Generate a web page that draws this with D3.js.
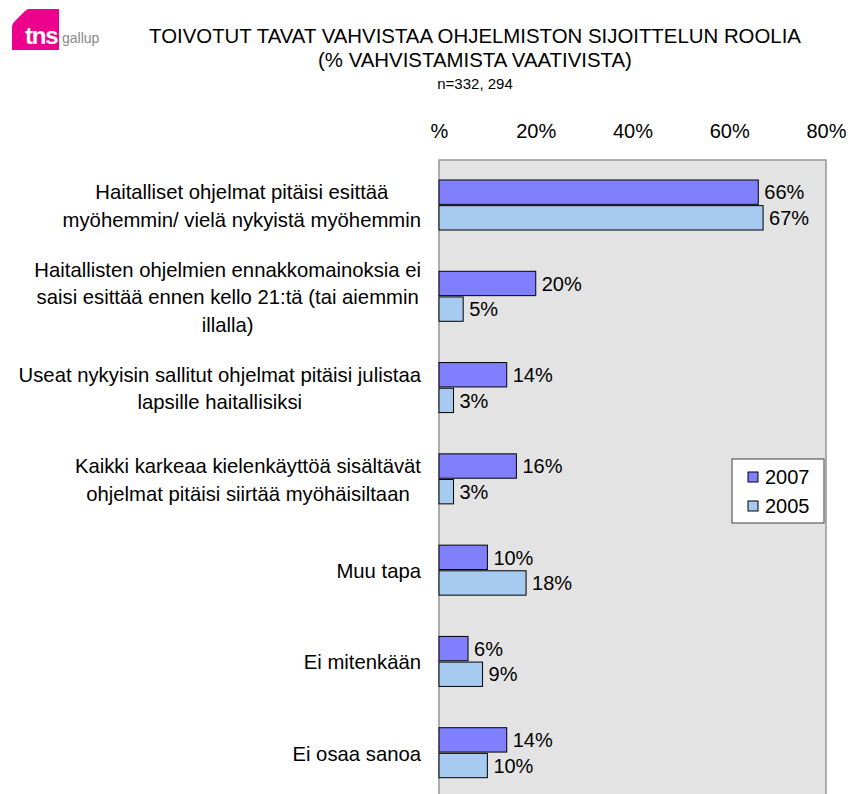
<!DOCTYPE html>
<html>
<head>
<meta charset="utf-8">
<script src="https://cdn.jsdelivr.net/npm/d3@7"></script>
<style>
  body { margin: 0; background: #fff; }
  svg { font-family: "Liberation Sans", Arial, sans-serif; }
</style>
</head>
<body>
<div id="chart"></div>
<script>
var categories = [
  ["Haitalliset ohjelmat pitäisi esittää", "myöhemmin/ vielä nykyistä myöhemmin"],
  ["Haitallisten ohjelmien ennakkomainoksia ei", "saisi esittää ennen kello 21:tä (tai aiemmin", "illalla)"],
  ["Useat nykyisin sallitut ohjelmat pitäisi julistaa", "lapsille haitallisiksi"],
  ["Kaikki karkeaa kielenkäyttöä sisältävät", "ohjelmat pitäisi siirtää myöhäisiltaan"],
  ["Muu tapa"],
  ["Ei mitenkään"],
  ["Ei osaa sanoa"]
];
var seriesNames = ["2007", "2005"];
var values2007 = [66, 20, 14, 16, 10, 6, 14];
var values2005 = [67, 5, 3, 3, 18, 9, 10];
var tickValues = [0, 20, 40, 60, 80];
var tickLabels = ["%", "20%", "40%", "60%", "80%"];

var colors = { "2007": "#8080ff", "2005": "#a6caf0" };

var width = 851, height = 794;
var plot = { left: 439, right: 826, top: 160, bottom: 799 };

var svg = d3.select("#chart").append("svg")
  .attr("width", width)
  .attr("height", height);

// logo
var logo = svg.append("g");
logo.append("path")
  .attr("d", "M29,9 L59,9 L59,50 L12,50 L12,27 Q12,24 14,22 L25,11 Q27,9 29,9 Z")
  .attr("fill", "#ec008c");
logo.append("text")
  .attr("x", 25).attr("y", 44)
  .attr("fill", "#fff")
  .style("font-size", "24px")
  .style("font-weight", "bold")
  .style("letter-spacing", "-1.2px")
  .text("tns");
logo.append("text")
  .attr("x", 62).attr("y", 43)
  .attr("fill", "#888")
  .style("font-size", "14px")
  .text("gallup");

// title
svg.append("text")
  .attr("x", 475).attr("y", 43)
  .attr("text-anchor", "middle")
  .style("font-size", "20.4px")
  .text("TOIVOTUT TAVAT VAHVISTAA OHJELMISTON SIJOITTELUN ROOLIA");
svg.append("text")
  .attr("x", 475).attr("y", 67)
  .attr("text-anchor", "middle")
  .style("font-size", "20.4px")
  .text("(% VAHVISTAMISTA VAATIVISTA)");
svg.append("text")
  .attr("x", 475).attr("y", 89)
  .attr("text-anchor", "middle")
  .style("font-size", "15px")
  .text("n=332, 294");

var x = d3.scaleLinear().domain([0, 80]).range([plot.left, plot.right]);
var y0 = d3.scaleBand().domain(d3.range(categories.length)).range([plot.top, plot.bottom]);
var y1 = d3.scaleBand().domain(seriesNames).range([20, 70]).paddingInner(0.05);

// plot area
svg.append("rect")
  .attr("x", plot.left).attr("y", plot.top)
  .attr("width", plot.right - plot.left)
  .attr("height", plot.bottom - plot.top)
  .attr("fill", "#e3e3e3")
  .attr("stroke", "#969696")
  .attr("stroke-width", 1.5);

// axis on top
var axis = d3.axisTop(x)
  .tickValues(tickValues)
  .tickFormat(function(d, i) { return tickLabels[i]; })
  .tickSize(0)
  .tickPadding(0);
var ax = svg.append("g")
  .attr("transform", "translate(0,138)")
  .call(axis);
ax.select(".domain").remove();
ax.selectAll("text")
  .attr("dy", 0)
  .attr("fill", "#000")
  .style("font-size", "20px")
  .style("font-family", "Liberation Sans, Arial, sans-serif");

// bars
var rows = [];
categories.forEach(function(c, i) {
  rows.push({ cat: i, series: "2007", value: values2007[i] });
  rows.push({ cat: i, series: "2005", value: values2005[i] });
});

svg.selectAll(".bar")
  .data(rows)
  .enter().append("rect")
    .attr("class", "bar")
    .attr("x", x(0))
    .attr("y", function(d) { return y0(d.cat) + y1(d.series); })
    .attr("width", function(d) { return x(d.value) - x(0); })
    .attr("height", y1.bandwidth())
    .attr("fill", function(d) { return colors[d.series]; })
    .attr("stroke", "#000")
    .attr("stroke-width", 1);

svg.selectAll(".val")
  .data(rows)
  .enter().append("text")
    .attr("class", "val")
    .attr("x", function(d) { return x(d.value) + 6; })
    .attr("y", function(d) { return y0(d.cat) + y1(d.series) + y1.bandwidth() / 2; })
    .attr("dy", "0.36em")
    .style("font-size", "20px")
    .text(function(d) { return d.value + "%"; });

// category labels: block right-aligned, lines centred in block
var lineH = 27.5;
categories.forEach(function(lines, i) {
  var g = svg.append("g");
  var texts = lines.map(function(l, j) {
    return g.append("text")
      .attr("text-anchor", "middle")
      .attr("dy", "0.36em")
      .style("font-size", "20.3px")
      .text(l);
  });
  var maxW = d3.max(texts, function(t) { return t.node().getComputedTextLength(); });
  var cx = 421 - maxW / 2;
  var cy = y0(i) + y0.bandwidth() / 2 - (lines.length - 1) * lineH / 2;
  texts.forEach(function(t, j) {
    t.attr("x", cx).attr("y", cy + j * lineH);
  });
});

// legend
var leg = svg.append("g").attr("transform", "translate(732,459)");
leg.append("rect")
  .attr("width", 92).attr("height", 64)
  .attr("fill", "#fff")
  .attr("stroke", "#404040")
  .attr("stroke-width", 1);
seriesNames.forEach(function(s, i) {
  leg.append("rect")
    .attr("x", 16).attr("y", 13 + i * 29)
    .attr("width", 10).attr("height", 10)
    .attr("fill", colors[s])
    .attr("stroke", "#000");
  leg.append("text")
    .attr("x", 33).attr("y", 18 + i * 29)
    .attr("dy", "0.36em")
    .style("font-size", "20px")
    .text(s);
});
</script>
</body>
</html>
